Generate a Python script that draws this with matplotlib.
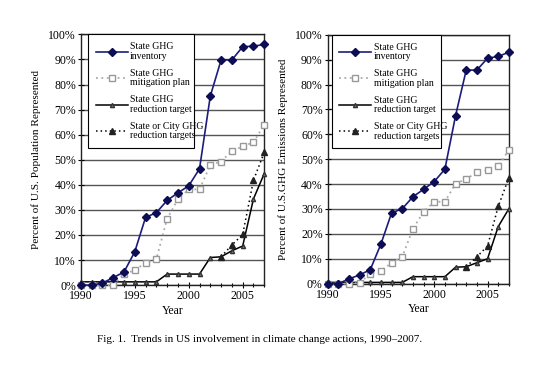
import numpy as np
from matplotlib import pyplot as plt

plt.rcParams['font.family'] = ['Liberation Serif', 'DejaVu Serif']

years = list(range(1990, 2008))

# left panel - percent of US population
pop_inventory = [0, 0, 0.8, 3, 5.2, 13.3, 27, 28.9, 33.8, 36.8, 39.6, 46.4, 75.4, 89.8, 89.8, 95.1, 95.3, 96]
pop_mitigation = [0, 0, 0, 0, 4.3, 6, 8.9, 10.4, 26.5, 34.2, 38.2, 38.2, 47.9, 49.3, 53.5, 55.3, 57, 64]
pop_target = [1.3, 1.3, 1.3, 1.3, 1.3, 1.3, 1.3, 1.3, 4.4, 4.4, 4.4, 4.4, 11, 11.3, 13.7, 15.6, 34.4, 44.5]
pop_city = [None] * 13 + [11.3, 16, 20.2, 41.8, 53]

# right panel - percent of US GHG emissions
ghg_inventory = [0, 0, 1.9, 3.5, 5.6, 15.9, 28.4, 30.1, 34.9, 37.9, 41, 46, 67.5, 85.8, 85.8, 90.6, 91.3, 93]
ghg_mitigation = [0, 0, 0, 0.3, 4, 5.2, 8.3, 10.8, 22, 28.9, 32.9, 32.9, 40.2, 42, 44.8, 45.6, 47.3, 53.7]
ghg_target = [0.5, 0.5, 0.5, 0.5, 0.5, 0.5, 0.5, 0.5, 2.8, 2.8, 2.8, 2.8, 6.6, 6.8, 8.4, 10, 22.9, 30.1]
ghg_city = [None] * 13 + [6.8, 10.8, 15.1, 31, 42.6]

labels = ['State GHG\ninventory', 'State GHG\nmitigation plan',
          'State GHG\nreduction target', 'State or City GHG\nreduction targets']
yticks = list(range(0, 101, 10))
xticks = [1990, 1995, 2000, 2005]


def to_arr(vals):
    return np.array([np.nan if v is None else v for v in vals], dtype=float)


def draw_panel(ax, inv, mit, tgt, city, ylabel, leg_box):
    ax.plot(years, to_arr(tgt), color='black', lw=1.1, marker='^', ms=3,
            mfc='#777777', mec='#333333', label=labels[2], zorder=3, clip_on=False)
    ax.plot(years, to_arr(city), color='black', lw=1.1, ls=(0, (1, 2)), marker='^', ms=5,
            mfc='#222222', mec='#222222', label=labels[3], zorder=4, clip_on=False)
    ax.plot(years, to_arr(mit), color='#aaaaaa', lw=1.3, ls=(0, (1, 2)), marker='s', ms=4.5,
            mfc='white', mec='#999999', label=labels[1], zorder=3, clip_on=False)
    ax.plot(years, to_arr(inv), color='#1c1c7a', lw=1.2, marker='D', ms=3.7,
            mfc='#0d0d55', mec='#0d0d55', label=labels[0], zorder=5, clip_on=False)

    ax.set_xlim(1990, 2007)
    ax.set_ylim(0, 100)
    ax.set_yticks(yticks)
    ax.set_yticklabels([str(v) + '%' for v in yticks], fontsize=8.5)
    ax.set_xticks(xticks)
    ax.set_xticklabels([str(v) for v in xticks], fontsize=8.5)
    ax.set_xticks(years, minor=True)
    ax.tick_params(axis='both', which='both', direction='inout', length=4, width=0.8, pad=1.5)
    ax.tick_params(axis='x', which='minor', length=3)
    ax.grid(True, axis='y', color='#555555', lw=1.0, zorder=0)
    ax.set_axisbelow(True)
    for s in ax.spines.values():
        s.set_linewidth(1.0)
        s.set_color('#222222')
    ax.set_ylabel(ylabel, fontsize=8.1, labelpad=5)
    ax.set_xlabel('Year', fontsize=8.5, labelpad=2)

    # legend in the upper-left corner, order as in the original
    h, l = ax.get_legend_handles_labels()
    order = [3, 2, 0, 1]
    leg = ax.legend([h[i] for i in order], [l[i] for i in order], loc='upper left',
                    bbox_to_anchor=leg_box, mode='expand', fontsize=7, frameon=True,
                    fancybox=False, edgecolor='black', facecolor='white', framealpha=1,
                    handlelength=3.3, handletextpad=0.25, labelspacing=0.8,
                    borderaxespad=0, borderpad=0.8)
    leg.get_frame().set_linewidth(0.8)
    for t in leg.get_texts():
        t.set_linespacing(1.1)
    leg.set_zorder(10)


fig = plt.figure(figsize=(5.46, 3.66), dpi=100)
ax1 = fig.add_axes([0.148, 0.221, 0.336, 0.685])
ax2 = fig.add_axes([0.600, 0.225, 0.332, 0.680])

draw_panel(ax1, pop_inventory, pop_mitigation, pop_target, pop_city,
           'Percent of U.S. Population Represented', (0.038, 0.534, 0.577, 0.466))
draw_panel(ax2, ghg_inventory, ghg_mitigation, ghg_target, ghg_city,
           'Percent of U.S.GHG Emissions Represented', (0.022, 0.509, 0.601, 0.491))

fig.text(0.476, 0.073, 'Fig. 1.  Trends in US involvement in climate change actions, 1990\u20132007.',
         ha='center', va='center', fontsize=8)

plt.savefig('out.png', dpi=100)
plt.close()
